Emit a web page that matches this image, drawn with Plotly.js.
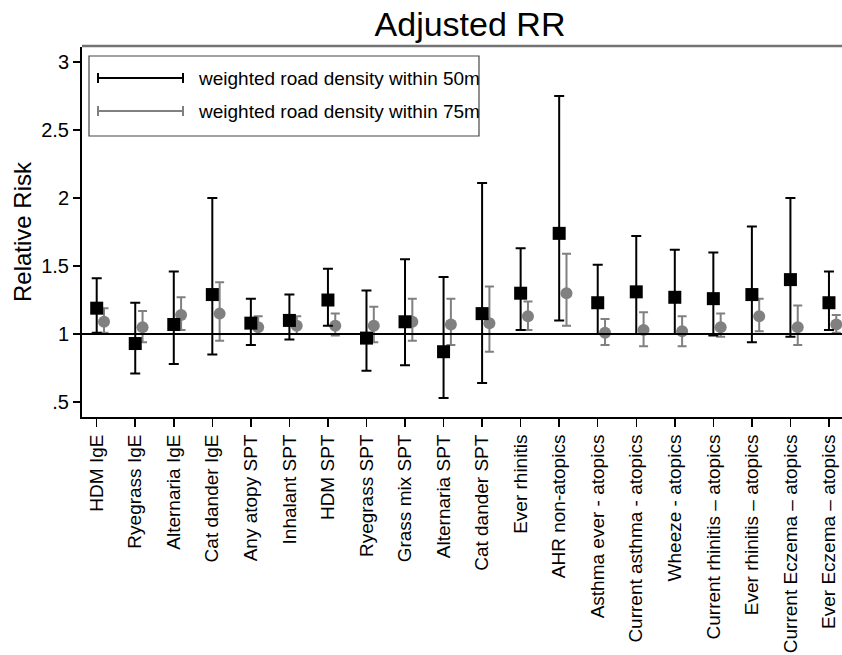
<!DOCTYPE html>
<html>
<head>
<meta charset="utf-8">
<script src="https://cdn.plot.ly/plotly-3.0.1.min.js"></script>
<style>html,body{margin:0;padding:0;background:#fff;}#chart{width:842px;height:655px;}</style>
</head>
<body>
<div id="chart"></div>
<script>
const categories = ["HDM IgE","Ryegrass IgE","Alternaria IgE","Cat dander IgE","Any atopy SPT","Inhalant SPT","HDM SPT","Ryegrass SPT","Grass mix SPT","Alternaria SPT","Cat dander SPT","Ever rhinitis","AHR non-atopics","Asthma ever - atopics","Current asthma - atopics","Wheeze - atopics","Current rhinitis \u2013 atopics","Ever rhinitis \u2013 atopics","Current Eczema \u2013 atopics","Ever Eczema \u2013 atopics"];
const rr50 = [1.19,0.93,1.07,1.29,1.08,1.10,1.25,0.97,1.09,0.87,1.15,1.30,1.74,1.23,1.31,1.27,1.26,1.29,1.40,1.23];
const lo50 = [1.01,0.71,0.78,0.85,0.92,0.96,1.06,0.73,0.77,0.53,0.64,1.03,1.10,1.00,1.00,1.00,0.99,0.94,0.98,1.03];
const hi50 = [1.41,1.23,1.46,2.00,1.26,1.29,1.48,1.32,1.55,1.42,2.11,1.63,2.75,1.51,1.72,1.62,1.60,1.79,2.00,1.46];
const rr75 = [1.09,1.05,1.14,1.15,1.05,1.06,1.06,1.06,1.09,1.07,1.08,1.13,1.30,1.01,1.03,1.02,1.05,1.13,1.05,1.07];
const lo75 = [1.01,0.94,1.03,0.95,1.00,1.00,0.99,0.94,0.95,0.92,0.87,1.03,1.06,0.92,0.91,0.91,0.98,1.02,0.92,1.01];
const hi75 = [1.19,1.17,1.27,1.38,1.13,1.13,1.15,1.20,1.26,1.26,1.35,1.24,1.59,1.11,1.16,1.13,1.15,1.26,1.21,1.14];
const yTickVals = [0.5,1,1.5,2,2.5,3];
const yTickText = [".5","1","1.5","2","2.5","3"];
const seriesNames = ["weighted road density within 50m","weighted road density within 75m"];
const refLine = 1;

const FONT = "Liberation Sans, Arial, sans-serif";
const GREY = "rgb(128,128,128)";
const idx = categories.map((_, i) => i);
const offset75 = 0.19;

const W = 842, H = 655;
const M = {l: 82, r: 0, t: 47, b: 238};
const pw = W - M.l - M.r, ph = H - M.t - M.b;
const px2x = px => (px - M.l) / pw;
const px2y = py => (H - M.b - py) / ph;

const trace75 = {
  x: idx.map(i => i + offset75), y: rr75, type: "scatter", mode: "markers",
  name: seriesNames[1], showlegend: false,
  marker: {symbol: "circle", size: 12, color: GREY},
  error_y: {type: "data", symmetric: false,
    array: hi75.map((h, i) => h - rr75[i]), arrayminus: lo75.map((l, i) => rr75[i] - l),
    color: GREY, thickness: 2, width: 4.5}
};
const trace50 = {
  x: idx, y: rr50, type: "scatter", mode: "markers",
  name: seriesNames[0], showlegend: false,
  marker: {symbol: "square", size: 13, color: "black"},
  error_y: {type: "data", symmetric: false,
    array: hi50.map((h, i) => h - rr50[i]), arrayminus: lo50.map((l, i) => rr50[i] - l),
    color: "black", thickness: 2, width: 5}
};

// legend drawn as shapes/annotations (error-bar style keys)
const legBox = {x0: px2x(89), x1: px2x(479), y0: px2y(136), y1: px2y(56)};
const rows = [{py: 78, color: "black"}, {py: 111, color: GREY}];
const shapes = [
  {type: "rect", xref: "paper", yref: "paper", x0: legBox.x0, x1: legBox.x1, y0: legBox.y0, y1: legBox.y1,
   line: {color: "rgb(70,70,70)", width: 1.2}, fillcolor: "white", layer: "below"},
  {type: "line", xref: "paper", yref: "y", x0: 0, x1: 1, y0: refLine, y1: refLine,
   line: {color: "black", width: 2}},
  {type: "line", xref: "paper", yref: "paper", x0: 0, x1: 1, y0: px2y(46), y1: px2y(46),
   line: {color: "rgb(115,115,115)", width: 2.5}}
];
const annotations = [];
rows.forEach((r, k) => {
  shapes.push({type: "line", xref: "paper", yref: "paper", x0: px2x(98), x1: px2x(183), y0: px2y(r.py), y1: px2y(r.py), line: {color: r.color, width: 2}});
  shapes.push({type: "line", xref: "paper", yref: "paper", x0: px2x(98), x1: px2x(98), y0: px2y(r.py - 5), y1: px2y(r.py + 5), line: {color: r.color, width: 2}});
  shapes.push({type: "line", xref: "paper", yref: "paper", x0: px2x(183), x1: px2x(183), y0: px2y(r.py - 5), y1: px2y(r.py + 5), line: {color: r.color, width: 2}});
  annotations.push({xref: "paper", yref: "paper", x: px2x(196), y: px2y(r.py), xanchor: "left", yanchor: "middle",
    text: seriesNames[k], showarrow: false, font: {family: FONT, size: 19, color: "black"}});
});

const layout = {
  width: W, height: H,
  margin: M,
  paper_bgcolor: "white", plot_bgcolor: "white",
  showlegend: false,
  title: {text: "Adjusted RR", font: {family: FONT, size: 34, color: "black"},
    xref: "container", x: 470 / W, xanchor: "center", yref: "container", y: 1 - 24 / H, yanchor: "middle"},
  xaxis: {
    range: [-14.7 / 38.54, -14.7 / 38.54 + pw / 38.54],
    tickmode: "array", tickvals: idx, ticktext: categories, tickangle: -90,
    ticks: "outside", ticklen: 8, tickwidth: 1.5, tickcolor: "black",
    showline: true, linecolor: "black", linewidth: 2, showgrid: false, zeroline: false,
    tickfont: {family: FONT, size: 19, color: "black"}, automargin: false
  },
  yaxis: {
    range: [0.39, 3.11],
    tickmode: "array", tickvals: yTickVals, ticktext: yTickText,
    ticks: "outside", ticklen: 7, tickwidth: 1.5, tickcolor: "black",
    showline: true, linecolor: "black", linewidth: 2, showgrid: false, zeroline: false,
    tickfont: {family: FONT, size: 20, color: "black"}, automargin: false,
    title: {text: "Relative Risk", font: {family: FONT, size: 24, color: "black"}, standoff: 3}
  },
  shapes: shapes,
  annotations: annotations
};

Plotly.newPlot("chart", [trace75, trace50], layout, {staticPlot: true, displayModeBar: false});
</script>
</body>
</html>
